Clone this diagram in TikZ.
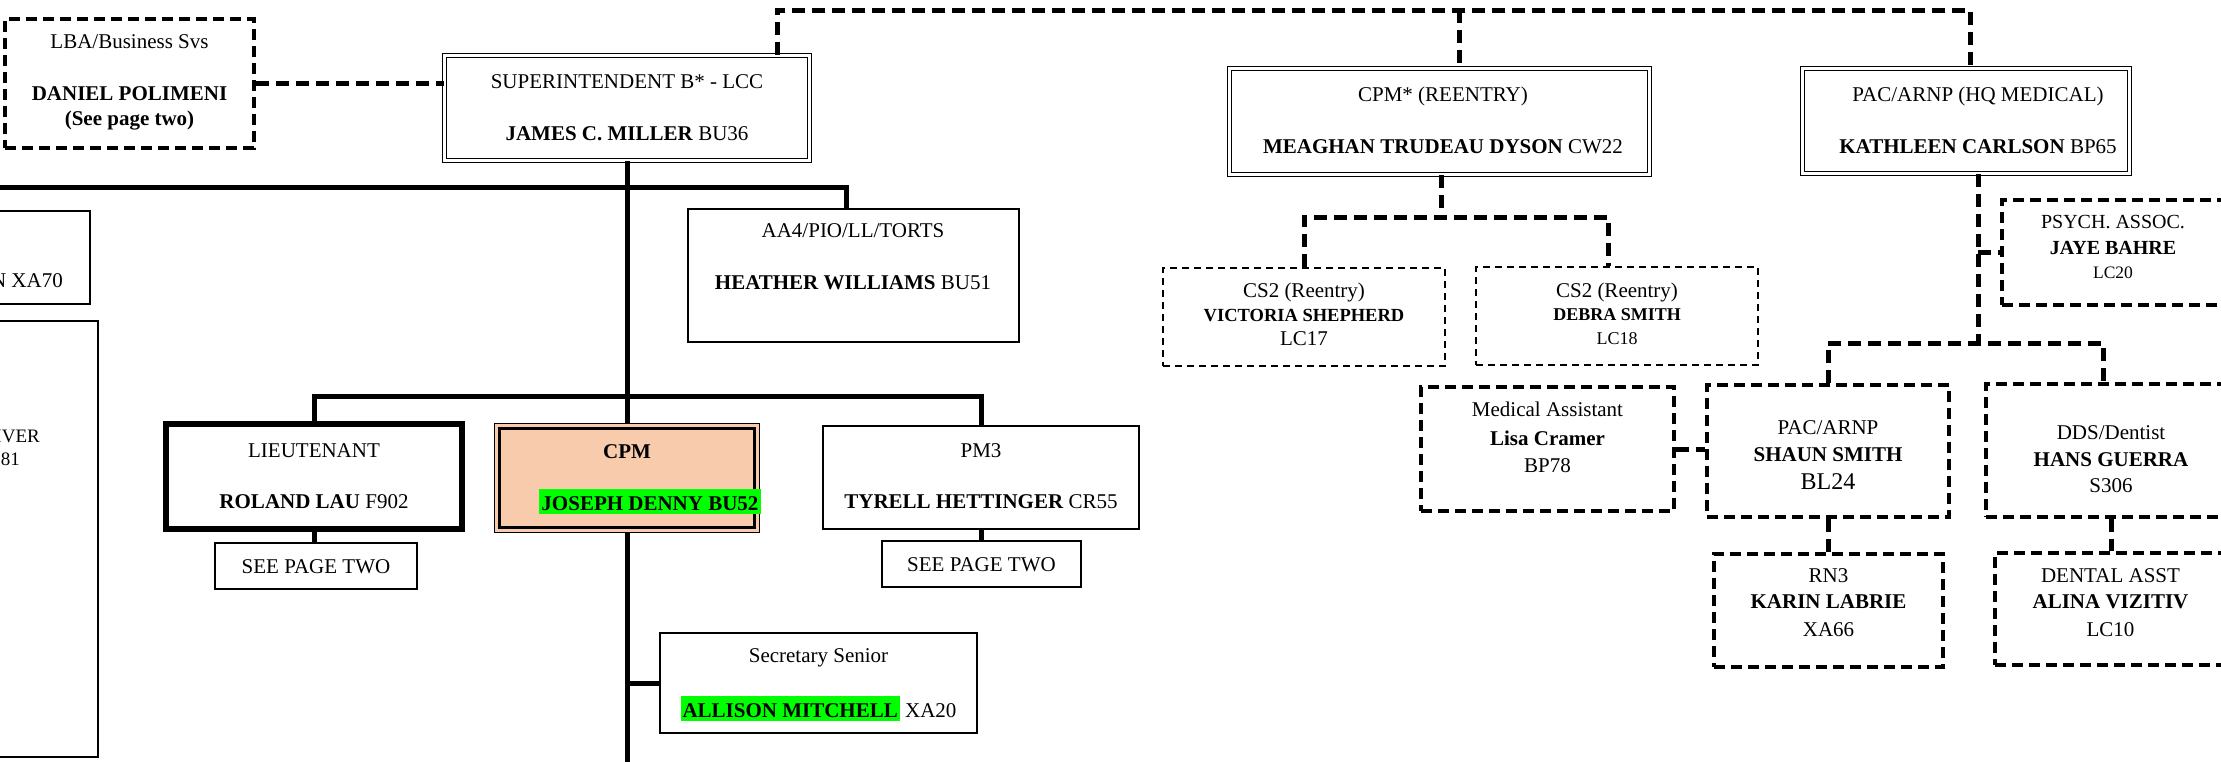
\documentclass[tikz,border=0pt]{standalone}
\usepackage{fontspec}
\setmainfont{Liberation Serif}
\usetikzlibrary{calc}
\definecolor{peach}{HTML}{F8CBAD}
\definecolor{hl}{HTML}{00FF00}
\newcommand\hlt[1]{{\setlength{\fboxsep}{0pt}\colorbox{hl}{\kern2pt\rule[-4pt]{0pt}{25pt}#1\kern2pt}}}
\newcounter{txtc}
\newcommand\txtline[3][]{\stepcounter{txtc}\node[tl,#1] (t\arabic{txtc}) at (#2) {#3};}
\tikzset{
  tl/.style={anchor=base, inner sep=0pt, font=\fontsize{21}{25}\selectfont},
  sz/.style={font=\fontsize{#1}{#1}\selectfont},
  box/.style={draw, line width=1.8pt, inner sep=0pt, fill=white},
  dbox/.style={draw, line width=1.3pt, double, double distance=2.2pt, inner sep=0pt},
  thickbox/.style={draw, line width=6.5pt, inner sep=0pt},
  dashbox/.style={draw, line width=4pt, dash pattern=on 11pt off 6pt, inner sep=0pt},
  thindash/.style={draw, line width=1.8pt, dash pattern=on 7pt off 5pt, inner sep=0pt},
  solidc/.style={line width=5pt},
  dashc/.style={line width=5pt, dash pattern=on 13pt off 7pt},
  sized/.style 2 args={minimum width=#1pt, minimum height=#2pt},
}
\begin{document}
\begin{tikzpicture}[x=1pt, y=-1pt]
\useasboundingbox (0,0) rectangle (2221,761);
\clip (0,0) rectangle (2221,761);

% ---------- boxes ----------
\node[dashbox, sized={249}{129}] (lba) at (129.5,83.5) {};
\node[dbox, sized={365}{105}] (sup) at (627,108) {};
\node[dbox, sized={420}{106}] (cpms) at (1439.5,121.5) {};
\node[dbox, sized={327}{105}] (pac) at (1966,121) {};
\node[box, sized={331}{133}] (aa4) at (853.5,275.5) {};
\node[box, sized={190}{93}] (lefta) at (-5,257.5) {};
\node[box, sized={198}{436}] (leftb) at (-1,539) {};
\node[thickbox, sized={296}{105}] (lt) at (314,476.5) {};
\node[box, sized={202}{46}] (see1) at (316,566) {};
\node[draw, line width=1.2pt, fill=peach, inner sep=0pt, sized={264.8}{108.8}] (cpm) at (627,478) {};
\draw[line width=2.2pt] ([shift={(5.5,-5.5)}]cpm.south west) rectangle ([shift={(-5.5,5.5)}]cpm.north east);
\node[box, sized={316}{103}] (pm3) at (981,477.5) {};
\node[box, sized={199}{46}] (see2) at (981.5,564) {};
\node[box, sized={317}{100}] (sec) at (818.5,683) {};
\node[thindash, sized={282}{98}] (cs2a) at (1304,317) {};
\node[thindash, sized={282}{98}] (cs2b) at (1617,316) {};
\node[dashbox, sized={222}{105}] (psych) at (2113,252.5) {};
\node[dashbox, sized={253}{124}] (ma) at (1547.5,449) {};
\node[dashbox, sized={242}{132}] (shaun) at (1828,451) {};
\node[dashbox, sized={250}{133}] (dds) at (2111,450.5) {};
\node[dashbox, sized={229}{113}] (rn3) at (1828.5,610.5) {};
\node[dashbox, sized={231}{112}] (dental) at (2110.5,609) {};

% ---------- solid connectors ----------
\coordinate (hmain) at (-10,187);
\coordinate (hlt) at (0,396);
\coordinate (vend) at (627,775);
\draw[solidc] (sup.south) -- (cpm.north);
\draw[solidc] (hmain) -- ([xshift=-7.5pt]aa4.north |- hmain) -- ([xshift=-7.5pt]aa4.north);
\draw[solidc] (lt.north) -- (lt.north |- hlt) -- (pm3.north |- hlt) -- (pm3.north);
\draw[solidc] (lt.south) -- (lt.south |- see1.north);
\draw[solidc] (pm3.south) -- (pm3.south |- see2.north);
\draw[solidc] (cpm.south) -- (vend);
\draw[solidc] (cpm.south |- sec.west) -- (sec.west);

% ---------- dashed connectors ----------
\coordinate (topy) at (0,10);
\coordinate (cy) at (0,217);
\coordinate (my) at (0,343);
\draw[dashc] (lba.east) -- (lba.east -| sup.west);
\draw[dashc] ([xshift=150pt]sup.north) -- ([xshift=150pt]sup.north |- topy) -- ([xshift=4pt]pac.north |- topy) -- ([xshift=4pt]pac.north);
\draw[dashc] ([xshift=19.5pt]cpms.north |- topy) -- ([xshift=19.5pt]cpms.north);
\draw[dashc] ([xshift=1.5pt]cpms.south) -- ([xshift=1.5pt]cpms.south |- cy);
\draw[dashc] (cs2a.north) -- (cs2a.north |- cy) -- ([xshift=-9pt]cs2b.north |- cy) -- ([xshift=-9pt]cs2b.north);
\draw[dashc] ([xshift=12pt]pac.south) -- ([xshift=12pt]pac.south |- my);
\draw[dashc] ([xshift=12pt]pac.south |- psych.west) -- (psych.west);
\draw[dashc] (shaun.north) -- (shaun.north |- my) -- ([xshift=-8pt]dds.north |- my) -- ([xshift=-8pt]dds.north);
\draw[dashc] (ma.east) -- (ma.east -| shaun.west);
\draw[dashc] (shaun.south) -- (shaun.south |- rn3.north);
\draw[dashc] (dds.south) -- (dds.south |- dental.north);

% ---------- texts ----------
\txtline{129.5,48}{LBA/Business Svs}
\txtline{129.5,100}{\bfseries DANIEL POLIMENI}
\txtline{129.5,125}{\bfseries (See page two)}
\txtline{627,88}{SUPERINTENDENT B* - LCC}
\txtline{627,140}{\textbf{JAMES C. MILLER} BU36}
\txtline{1443,101}{CPM* (REENTRY)}
\txtline{1443,153}{\textbf{MEAGHAN TRUDEAU DYSON} CW22}
\txtline{1978,101}{PAC/ARNP (HQ MEDICAL)}
\txtline{1978,153}{\textbf{KATHLEEN CARLSON} BP65}
\txtline{853,237}{AA4/PIO/LL/TORTS}
\txtline{853,289}{\textbf{HEATHER WILLIAMS} BU51}
\txtline[anchor=base east]{63,287}{N XA70}
\txtline[anchor=base east, sz=19]{40,442}{IVER}
\txtline[anchor=base east, sz=19]{20,465}{81}
\txtline{314,457}{LIEUTENANT}
\txtline{314,508}{\textbf{ROLAND LAU} F902}
\txtline{316,573}{SEE PAGE TWO}
\txtline{627,458}{\bfseries CPM}
\txtline{650,510}{\hlt{\bfseries JOSEPH DENNY BU52}}
\txtline{981,457}{PM3}
\txtline{981,508}{\textbf{TYRELL HETTINGER} CR55}
\txtline{981.5,571}{SEE PAGE TWO}
\txtline{818.5,662}{Secretary Senior}
\txtline{818.5,717}{\hlt{\bfseries ALLISON MITCHELL} XA20}
\txtline{1304,297}{CS2 (Reentry)}
\txtline[sz=18.5]{1304,321}{\bfseries VICTORIA SHEPHERD}
\txtline{1304,345}{LC17}
\txtline{1617,297}{CS2 (Reentry)}
\txtline[sz=18]{1617,320}{\bfseries DEBRA SMITH}
\txtline[sz=18]{1617,344}{LC18}
\txtline[sz=20]{2113,228}{PSYCH. ASSOC.}
\txtline[sz=20]{2113,254}{\bfseries JAYE BAHRE}
\txtline[sz=17.5]{2113,278}{LC20}
\txtline{1547.5,416}{Medical Assistant}
\txtline{1547.5,445}{\bfseries Lisa Cramer}
\txtline{1547.5,472}{BP78}
\txtline{1828,434}{PAC/ARNP}
\txtline{1828,461}{\bfseries SHAUN SMITH}
\txtline[sz=24]{1828,489}{BL24}
\txtline{2111,439}{DDS/Dentist}
\txtline{2111,466}{\bfseries HANS GUERRA}
\txtline{2111,492}{S306}
\txtline{1828.5,582}{RN3}
\txtline{1828.5,608}{\bfseries KARIN LABRIE}
\txtline{1828.5,636}{XA66}
\txtline{2110.5,582}{DENTAL ASST}
\txtline{2110.5,608}{\bfseries ALINA VIZITIV}
\txtline{2110.5,636}{LC10}
\end{tikzpicture}
\end{document}
